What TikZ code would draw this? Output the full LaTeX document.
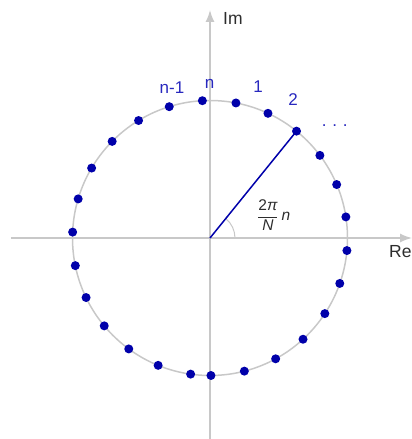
\documentclass[tikz,border=0pt]{standalone}
\usepackage{amsmath}
\usepackage{fontspec}
\setmainfont{Liberation Sans}
\usetikzlibrary{arrows.meta}
\definecolor{axisgray}{RGB}{200,200,200}
\definecolor{dotblue}{RGB}{0,0,170}
\definecolor{lblblue}{RGB}{40,40,190}
\definecolor{txtgray}{RGB}{45,45,45}

\begin{document}
\begin{tikzpicture}[x=1pt,y=1pt,
  axis/.style={axisgray, line width=1.5pt},
  rootdot/.style={circle, fill=dotblue, inner sep=0pt, minimum size=9pt},
  rootlbl/.style={text=lblblue, font=\fontsize{17}{20}\selectfont, inner sep=0pt},
  axislbl/.style={text=txtgray, font=\fontsize{17.5}{20}\selectfont, inner sep=0pt, anchor=west}]
\useasboundingbox (-210,-201) rectangle (202,238);
\coordinate (O) at (0,0);
\coordinate (west) at (-199,0);
\coordinate (east) at (202,0);
\coordinate (south) at (0,-201);
\coordinate (north) at (0,228);
% axes and unit circle
\draw[axis, -{Latex[length=12pt,width=9pt]}] (west) -- (east);
\draw[axis, -{Latex[length=12pt,width=9pt]}] (south) -- (north);
\draw[axis] (O) circle (137.5);
\draw[axisgray, line width=1pt] (25,0) arc (0:51:25);
% roots
\foreach \k in {0,...,25}
  \node[rootdot] (p\k) at ({-89.6+14.06*\k}:137.5) {};
\draw[dotblue, line width=1.5pt] (O) -- (p10.center);
% labels
\node[rootlbl] (ln) at (-0.5,154.5) {n};
\node[rootlbl] (lnm) at (-38,150.5) {n-1};
\node[rootlbl] (l1) at (48,151) {1};
\node[rootlbl] (l2) at (83,138) {2};
\node[rootlbl] (ldots) at (124.7,112.3) {.\kern5.8pt.\kern5.8pt.};
\node[axislbl] (im) at (13,220) {Im};
\node[axislbl] (re) at (179,-14) {Re};
\node[text=txtgray, font=\fontsize{15.5}{18}\selectfont, inner sep=0pt, anchor=base west] (ang) at (47,17.5)
  {$\genfrac{}{}{}{0}{\text{2\itshape π}}{\text{\itshape N}}$\kern3pt\textit{n}};
\end{tikzpicture}
\end{document}
